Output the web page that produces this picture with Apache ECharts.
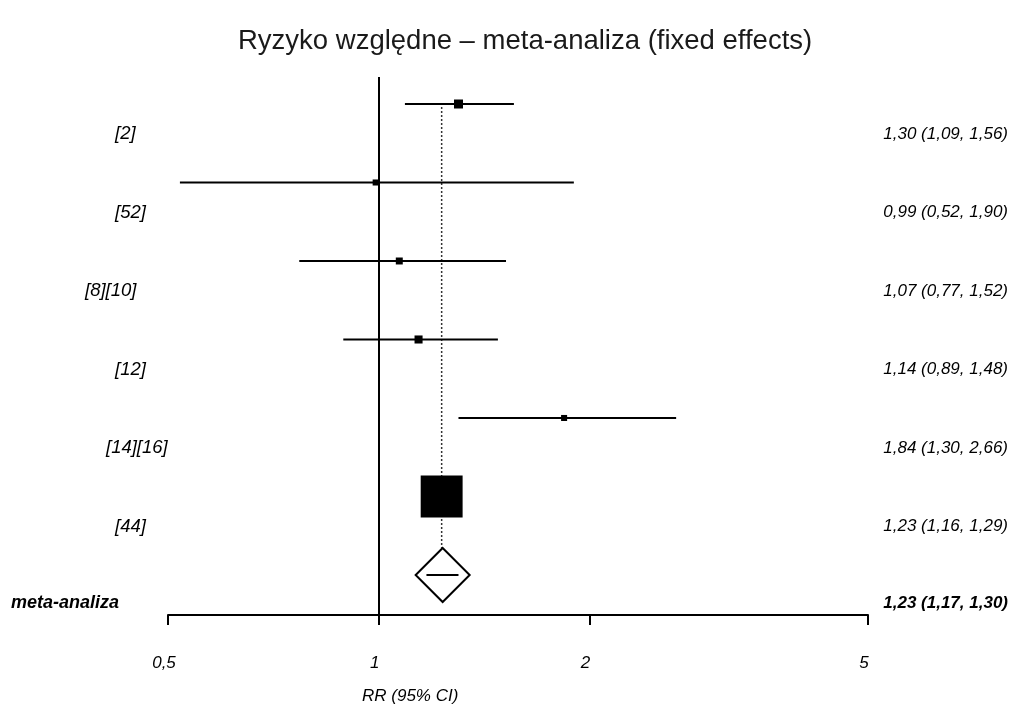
<!DOCTYPE html>
<html>
<head>
<meta charset="utf-8">
<script src="https://cdn.jsdelivr.net/npm/echarts@6/dist/echarts.min.js"></script>
<style>html,body{margin:0;padding:0;background:#fff;}#chart{width:1017px;height:706px;}</style>
</head>
<body>
<div id="chart"></div>
<script>
// ---- data ----
var studies = ['[2]', '[52]', '[8][10]', '[12]', '[14][16]', '[44]'];
var rr      = [1.30, 0.99, 1.07, 1.14, 1.84, 1.23];
var lower   = [1.09, 0.52, 0.77, 0.89, 1.30, 1.16];
var upper   = [1.56, 1.90, 1.52, 1.48, 2.66, 1.29];
var weights = [4.0, 1.8, 2.4, 3.2, 1.8, 86.8];
var pooledLabel = 'meta-analiza';
var pooledRR = 1.23, pooledLower = 1.17, pooledUpper = 1.30;
var xTicks = [0.5, 1, 2, 5];
var titleText = 'Ryzyko względne – meta-analiza (fixed effects)';
var axisTitle = 'RR (95% CI)';

// ---- layout (not data) ----
var labelLeftPx = [115, 115, 85, 115, 106, 115, 11];
var FONT = '"Liberation Sans", Arial, sans-serif';

function fmt(v) { return v.toFixed(2).replace('.', ','); }
function ciText(e, l, u) { return fmt(e) + ' (' + fmt(l) + ', ' + fmt(u) + ')'; }

var studyData = studies.map(function (s, i) {
  return [rr[i], i, lower[i], upper[i], weights[i]];
});
var pooledRow = studies.length;

var chart = echarts.init(document.getElementById('chart'), null, {renderer: 'canvas'});
var option = {
  backgroundColor: '#fff',
  animation: false,
  title: {
    text: titleText, left: 233, top: 22,
    textStyle: {fontFamily: FONT, fontSize: 27.5, fontWeight: 'normal', color: '#1a1a1a'}
  },
  grid: {left: 168, right: 149, top: 77, bottom: 91, containLabel: false},
  xAxis: {
    type: 'log', logBase: 10, min: 0.5, max: 5,
    splitLine: {show: false},
    axisLine: {show: true, onZero: false, lineStyle: {color: '#000', width: 2}},
    axisTick: {show: true, customValues: xTicks, length: 10, lineStyle: {color: '#000', width: 2}},
    minorTick: {show: false},
    axisLabel: {
      show: true, customValues: xTicks, margin: 40,
      fontFamily: FONT, fontSize: 17, fontStyle: 'italic', color: '#000',
      padding: [0, 8, 0, 0],
      formatter: function (v) { return String(+(+v).toPrecision(3)).replace('.', ','); }
    }
  },
  yAxis: {
    type: 'value', inverse: true, min: -0.344, max: 6.51, show: false
  },
  series: [
    {
      type: 'custom', name: 'pooled', clip: false, z: 1,
      data: [[pooledRR, pooledRow, pooledLower, pooledUpper]],
      encode: {x: 0, y: 1},
      renderItem: function (params, api) {
        var c = api.coord([api.value(0), api.value(1)]);
        var top = api.coord([api.value(0), 0]);
        var lo = api.coord([api.value(2), api.value(1)]);
        var hi = api.coord([api.value(3), api.value(1)]);
        var h = 27;
        var cx = c[0] + 1;
        return {
          type: 'group',
          children: [
            {type: 'line', shape: {x1: top[0], y1: top[1] + 3, x2: top[0], y2: c[1] - h},
             style: {stroke: '#333', lineWidth: 1.5, lineDash: [2, 2]}, z2: 0},
            {type: 'polygon', shape: {points: [[cx, c[1] - h], [cx + h, c[1]], [cx, c[1] + h], [cx - h, c[1]]]},
             style: {fill: '#fff', stroke: '#000', lineWidth: 2}, z2: 5},
            {type: 'line', shape: {x1: lo[0], y1: c[1], x2: hi[0], y2: c[1]},
             style: {stroke: '#000', lineWidth: 2}, z2: 6},
            {type: 'text', style: {text: pooledLabel, x: labelLeftPx[pooledRow], y: c[1] + 28,
              font: 'italic bold 18px ' + FONT, fill: '#000', textAlign: 'left', textVerticalAlign: 'middle'}},
            {type: 'text', style: {text: ciText(api.value(0), api.value(2), api.value(3)), x: 1008, y: c[1] + 28,
              font: 'italic bold 17px ' + FONT, fill: '#000', textAlign: 'right', textVerticalAlign: 'middle'}}
          ]
        };
      },
      markLine: {
        silent: true, symbol: 'none', label: {show: false},
        lineStyle: {color: '#000', width: 2, type: 'solid'},
        data: [{xAxis: 1}]
      }
    },
    {
      type: 'custom', name: 'studies', clip: false, z: 3,
      data: studyData,
      encode: {x: 0, y: 1},
      renderItem: function (params, api) {
        var i = params.dataIndex;
        var c = api.coord([api.value(0), api.value(1)]);
        var lo = api.coord([api.value(2), api.value(1)]);
        var hi = api.coord([api.value(3), api.value(1)]);
        var s = 4.5 * Math.sqrt(api.value(4));
        return {
          type: 'group',
          children: [
            {type: 'line', shape: {x1: lo[0], y1: c[1], x2: hi[0], y2: c[1]},
             style: {stroke: '#000', lineWidth: 2}},
            {type: 'rect', shape: {x: c[0] - s / 2, y: c[1] - s / 2, width: s, height: s},
             style: {fill: '#000'}},
            {type: 'text', style: {text: studies[i], x: labelLeftPx[i], y: c[1] + 30,
              font: 'italic 18.5px ' + FONT, fill: '#000', textAlign: 'left', textVerticalAlign: 'middle'}},
            {type: 'text', style: {text: ciText(api.value(0), api.value(2), api.value(3)), x: 1008, y: c[1] + 30,
              font: 'italic 17px ' + FONT, fill: '#000', textAlign: 'right', textVerticalAlign: 'middle'}}
          ]
        };
      }
    }
  ],
  graphic: [
    {type: 'text', left: 362, top: 688,
     style: {text: axisTitle, font: 'italic 17px ' + FONT, fill: '#000'}}
  ]
};
chart.setOption(option);
</script>
</body>
</html>
